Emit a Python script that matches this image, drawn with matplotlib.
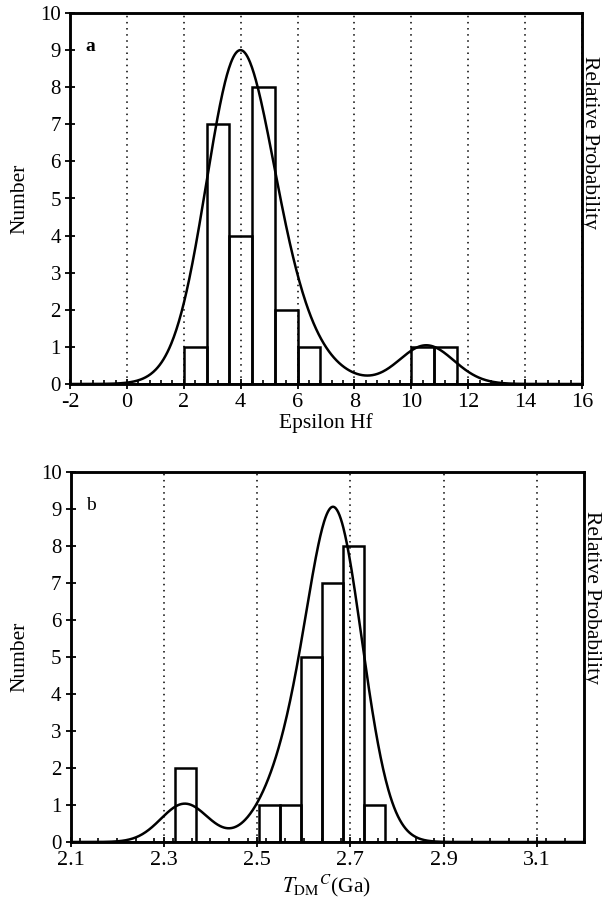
import numpy as np
import matplotlib
matplotlib.use("Agg")
import matplotlib.pyplot as plt
from matplotlib.ticker import MultipleLocator

plt.rcParams['font.family'] = ['Liberation Serif', 'DejaVu Serif']
plt.rcParams['mathtext.fontset'] = 'stix'

# ---------------- data ----------------
# Panel a: epsilon Hf of individual zircon analyses and their 1-sigma errors
eps_hf = [2.7, 3.1, 3.3, 3.4, 3.45, 3.5, 3.55, 3.58, 3.65, 3.8, 3.95, 4.1,
          4.42, 4.45, 4.5, 4.55, 4.6, 4.65, 4.7, 4.8, 5.3, 5.6, 6.2,
          10.3, 10.8]
eps_err = [1.1, 1.05, 1.0, 1.0, 1.0, 1.0, 0.95, 0.95, 0.95, 0.95, 0.95, 0.95,
           1.0, 1.0, 1.0, 1.05, 1.05, 1.1, 1.1, 1.15, 1.2, 1.25, 1.3,
           0.9, 0.95]
eps_bin_start = -2.0
eps_bin_width = 0.8
eps_peak_level = 9.0          # where the curve maximum sits on the Number axis
eps_xticks = [-2, 0, 2, 4, 6, 8, 10, 12, 14, 16]

# Panel b: crustal model ages T_DM^C (Ga)
tdm = [2.335, 2.355, 2.52, 2.56, 2.598, 2.60, 2.605, 2.61, 2.62,
       2.643, 2.645, 2.65, 2.655, 2.66, 2.665, 2.67,
       2.687, 2.688, 2.69, 2.692, 2.695, 2.698, 2.70, 2.705, 2.74]
tdm_err = [0.05, 0.05, 0.05, 0.05, 0.05, 0.05, 0.05, 0.05, 0.05,
           0.045, 0.045, 0.045, 0.045, 0.045, 0.045, 0.045,
           0.05, 0.05, 0.05, 0.05, 0.05, 0.05, 0.05, 0.05, 0.05]
tdm_bin_start = 2.1
tdm_bin_width = 0.045
tdm_peak_level = 9.06
tdm_xticks = [2.1, 2.3, 2.5, 2.7, 2.9, 3.1]
tdm_xticklabels = ['2.1', '2.3', '2.5', '2.7', '2.9', '3.1']

yticks = [0, 1, 2, 3, 4, 5, 6, 7, 8, 9, 10]

# ---------------- figure ----------------
fig = plt.figure(figsize=(6.10, 9.05), dpi=100)
ax_a = fig.add_axes([70 / 610, 1 - 384 / 905, 512 / 610, 371 / 905])
ax_b = fig.add_axes([70.5 / 610, 1 - 842 / 905, 513 / 610, 370 / 905])

LW = 1.8


def prob_curve(values, errors, grid):
    v = np.asarray(values)[:, None]
    s = np.asarray(errors)[:, None]
    dens = np.sum(np.exp(-0.5 * ((grid[None, :] - v) / s) ** 2) / s, axis=0)
    return dens / dens.max()


def panel(ax, values, errors, bin_start, bin_width, xlim, xticks, xticklabels,
          minor, peak_level, letter, xlabel, xlabelpad, rp_y):
    bins = np.arange(bin_start, xlim[1] + bin_width * 0.5, bin_width)
    ax.hist(values, bins=bins, histtype='bar', fill=False,
            edgecolor='black', linewidth=LW, zorder=3)
    ax.set_xlim(*xlim)
    ax.set_ylim(0, 10)
    ax.set_xticks(xticks)
    ax.set_xticklabels(xticklabels, fontsize=16)
    ax.set_yticks(yticks)
    ax.set_yticklabels([str(t) for t in yticks], fontsize=15)
    ax.xaxis.set_minor_locator(MultipleLocator(minor))
    ax.tick_params(axis='both', which='major', direction='inout', length=7,
                   width=1.3, pad=3, top=False, right=False)
    ax.tick_params(axis='x', which='minor', direction='in', length=3,
                   width=1.2, top=False)
    ax.tick_params(axis='y', which='minor', left=False, right=False)
    ax.xaxis.grid(True, which='major', linestyle=(0, (1, 3)), color='black',
                  linewidth=1.1)
    ax.set_axisbelow(True)
    for sp in ax.spines.values():
        sp.set_linewidth(LW)
    ax.set_ylabel('Number', fontsize=15.5, labelpad=8)
    ax.set_xlabel(xlabel, fontsize=15.5, labelpad=xlabelpad)
    ax.text(0.03, 0.91, letter, transform=ax.transAxes, fontsize=14,
            fontweight='bold' if letter == 'a' else 'normal', va='center')

    ax2 = ax.twinx()
    grid = np.linspace(xlim[0], xlim[1], 800)
    ax2.plot(grid, prob_curve(values, errors, grid), color='black',
             linewidth=LW, zorder=4)
    ax2.set_ylim(0, 10 / peak_level)
    ax2.set_yticks([])
    ax2.set_ylabel('Relative Probability', fontsize=15.5, rotation=270,
                   va='center')
    ax2.yaxis.set_label_coords(1.015, rp_y)
    for sp in ax2.spines.values():
        sp.set_linewidth(LW)


panel(ax_a, eps_hf, eps_err, eps_bin_start, eps_bin_width, (-2, 16),
      eps_xticks, [str(t) for t in eps_xticks], 0.4, eps_peak_level, 'a',
      'Epsilon Hf', 1, 0.65)
panel(ax_b, tdm, tdm_err, tdm_bin_start, tdm_bin_width, (2.1, 3.2),
      tdm_xticks, tdm_xticklabels, 0.04, tdm_peak_level, 'b',
      r'$T_{\mathrm{DM}}{}^{C}$(Ga)', 2, 0.66)

fig.savefig('out.png', dpi=100)
